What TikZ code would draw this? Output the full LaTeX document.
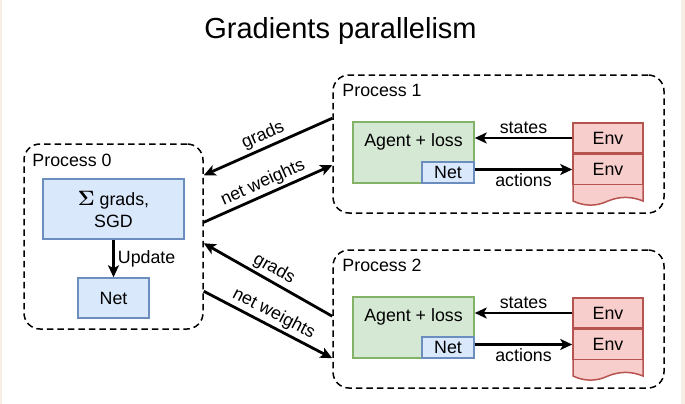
\documentclass[tikz,border=0pt]{standalone}
\usepackage[no-math]{fontspec}
\setmainfont{Liberation Sans}
\usetikzlibrary{arrows.meta, positioning, calc}
\definecolor{paper}{HTML}{F7EFE5}
\definecolor{blfill}{HTML}{DAE8FC}
\definecolor{bldraw}{HTML}{6C8EBF}
\definecolor{grfill}{HTML}{D5E8D4}
\definecolor{grdraw}{HTML}{82B366}
\definecolor{rdfill}{HTML}{F8CECC}
\definecolor{rddraw}{HTML}{B85450}
\newcommand{\bigsum}{{\fontsize{20.74}{22}\selectfont$\mathbf{\Sigma}$}}
\tikzset{
  procbox/.style={draw, line width=1.5pt, dash pattern=on 6.5pt off 4pt,
                  rounded corners=16pt, inner sep=0pt},
  proclbl/.style={anchor=north west, inner sep=0pt},
  bluebox/.style={draw=bldraw, fill=blfill, line width=1.5pt, inner sep=0pt},
  greenbox/.style={draw=grdraw, fill=grfill, line width=1.5pt, inner sep=0pt},
  redbox/.style={draw=rddraw, fill=rdfill, line width=1.5pt, inner sep=0pt},
  flow/.style={-{Stealth[length=12pt, width=11pt, inset=3pt]}, line width=2.8pt},
  lbl/.style={inner sep=2.5pt}
}

\begin{document}
\begin{tikzpicture}[x=1pt, y=-1pt, font=\fontsize{17.8}{22}\selectfont]
  \useasboundingbox (0,0) rectangle (685,404);
  \fill[paper] (0,0) rectangle (685,404);
  \fill[white] (1.5,0) rectangle (681,404);

  \node[font=\fontsize{29}{32}\selectfont, anchor=base] (title) at (340.5,38)
    {Gradients parallelism};

  % process 0: gathers the grads
  \node[procbox, minimum width=179pt, minimum height=185pt] (p0) at (113.5,236.5) {};
  \node[proclbl] (p0lbl) at ([xshift=9pt, yshift=-11pt]p0.north west) {Process 0};
  \node[bluebox, minimum width=141pt, minimum height=60pt, align=center]
    (sgd) at (113.5,209) {\bigsum{} grads,\\SGD};
  \node[bluebox, minimum width=71pt, minimum height=40pt] (net0) at (113.5,298) {Net};
  \draw[flow] (sgd) -- node[right, inner sep=3pt] {Update} (net0);

  % worker processes
  \foreach \i/\yo in {1/0, 2/175}{
    \node[procbox, minimum width=331pt, minimum height=138pt] (p\i) at (498.5,144+\yo) {};
    \node[proclbl] (p\i lbl) at ([xshift=10pt, yshift=-10pt]p\i.north west) {Process \i};
    \node[greenbox, minimum width=121pt, minimum height=61pt] (agent\i) at (413.5,152.5+\yo) {};
    \node[anchor=base] (agenttxt\i) at ([yshift=-25pt]agent\i.north) {Agent + loss};
    \node[bluebox, minimum width=52pt, minimum height=21pt, anchor=south east]
      (net\i) at (agent\i.south east) {Net};
    \begin{scope}[shift={(573,183+\yo)}]
      \draw[redbox] (0,0) -- (0,18) .. controls (11.7,23.5) and (23.3,23.5) .. (35,18)
        .. controls (46.7,13.2) and (58.3,13.2) .. (70,18) -- (70,0) -- cycle;
    \end{scope}
    \node[redbox, minimum width=70pt, minimum height=30pt] (envA\i) at (608,138+\yo) {Env};
    \node[redbox, minimum width=70pt, minimum height=30pt, below=0pt of envA\i] (envB\i) {Env};
    \draw[flow] (envA\i.west) -- node[above, lbl] {states} (envA\i.west -| agent\i.east);
    \draw[flow] ([yshift=3pt]net\i.east) -- node[below, inner sep=3pt] {actions}
      ([yshift=3pt]net\i.east -| envB\i.west);
  }

  % exchange between processes
  \draw[flow] ([yshift=-44pt]p1.north west) -- node[lbl, sloped, above] {grads}
    ([yshift=-32pt]p0.north east);
  \draw[flow] ([yshift=-79pt]p0.north east) -- node[lbl, sloped, above] {net weights}
    ([yshift=-91pt]p1.north west);
  \draw[flow] ([yshift=-67pt]p2.north west) -- node[lbl, sloped, above] {grads}
    ([yshift=-100pt]p0.north east);
  \draw[flow] ([yshift=-148pt]p0.north east) -- node[lbl, sloped, above] {net weights}
    ([yshift=-109pt]p2.north west);
\end{tikzpicture}
\end{document}
